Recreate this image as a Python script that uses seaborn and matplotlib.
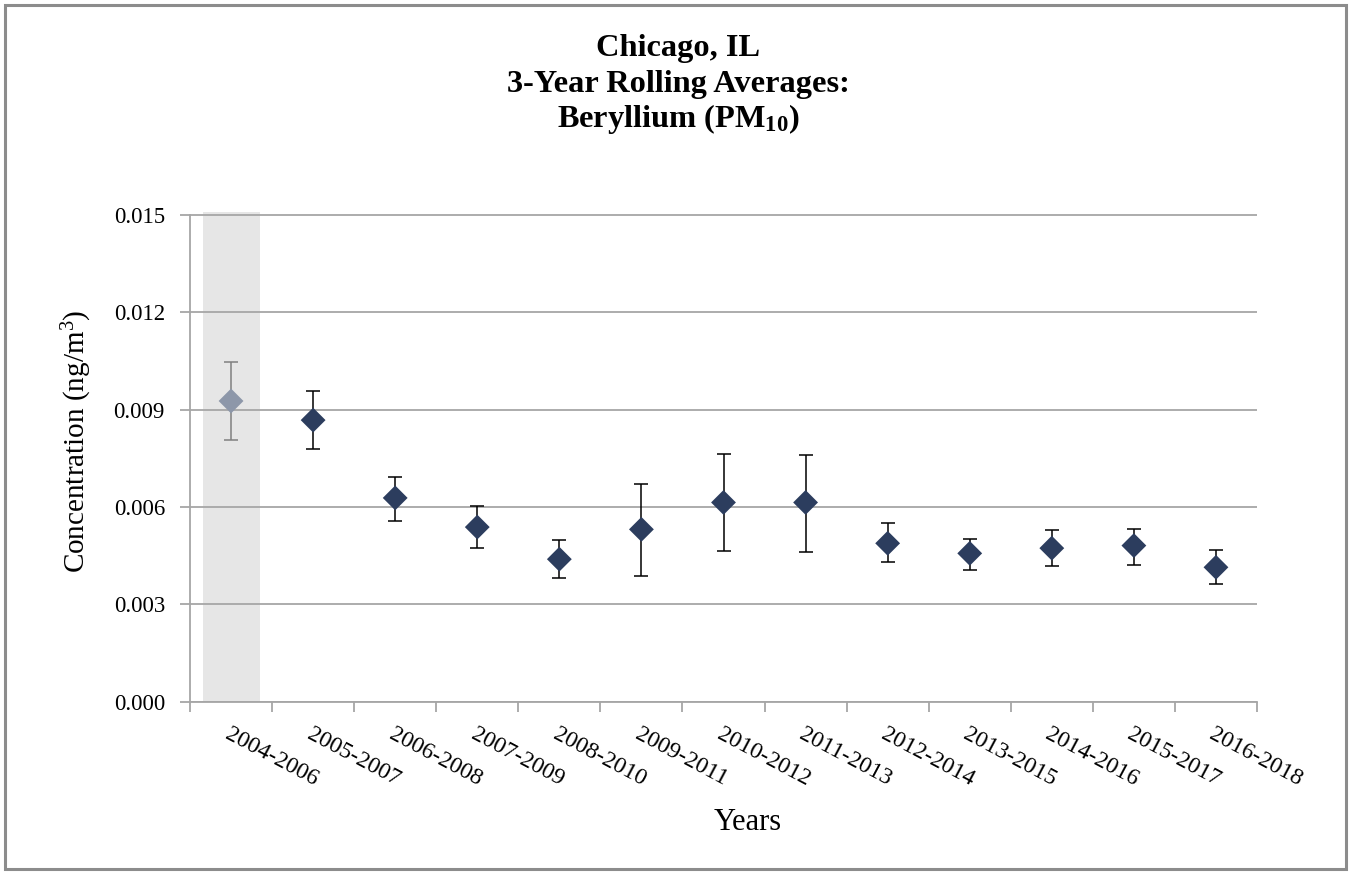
import matplotlib
matplotlib.use("Agg")
import matplotlib.pyplot as plt
import seaborn as sns
import pandas as pd
import numpy as np
from matplotlib.patches import Rectangle

# 3-year rolling averages of beryllium (PM10) with 95% confidence bounds
periods = ["2004-2006", "2005-2007", "2006-2008", "2007-2009", "2008-2010",
           "2009-2011", "2010-2012", "2011-2013", "2012-2014", "2013-2015",
           "2014-2016", "2015-2017", "2016-2018"]
means = [0.00927, 0.00868, 0.00628, 0.00538, 0.00439, 0.00531, 0.00614,
         0.00614, 0.00488, 0.00457, 0.00473, 0.00481, 0.00414]
upper = [0.01047, 0.00957, 0.00693, 0.00603, 0.00498, 0.00671, 0.00763,
         0.00760, 0.00550, 0.00502, 0.00529, 0.00533, 0.00468]
lower = [0.00807, 0.00780, 0.00558, 0.00473, 0.00380, 0.00387, 0.00465,
         0.00460, 0.00431, 0.00407, 0.00418, 0.00422, 0.00361]
groups = ["excluded"] + ["included"] * 12
yticks = [0.000, 0.003, 0.006, 0.009, 0.012, 0.015]

sns.set_theme(style="white")
plt.rcParams["font.family"] = ["Liberation Serif", "DejaVu Serif"]
plt.rcParams["mathtext.fontset"] = "custom"
plt.rcParams["mathtext.rm"] = "Liberation Serif"
plt.rcParams["mathtext.it"] = "Liberation Serif:italic"
plt.rcParams["mathtext.bf"] = "Liberation Serif:bold"
plt.rcParams["text.color"] = "black"

W, H = 1351, 874
GRID = "#A6A6A6"
NAVY = "#2C3D5E"
PALE = "#8D97A9"

df = pd.DataFrame({"period": periods, "mean": means, "low": lower,
                   "high": upper, "group": groups})
df["pos"] = np.arange(len(df))

fig = plt.figure(figsize=(W / 100, H / 100), dpi=100)
ax = fig.add_axes([190 / W, 1 - 701.5 / H, 1067 / W, 489.5 / H])

# shaded period excluded from the trend
ax.axvspan(-0.347, 0.347, color="#E6E6E6", lw=0, zorder=0)

# confidence interval whiskers
for grp, col in [("excluded", "#7F7F7F"), ("included", "black")]:
    sub = df[df["group"] == grp]
    ax.errorbar(sub["pos"], sub["mean"],
                yerr=[sub["mean"] - sub["low"], sub["high"] - sub["mean"]],
                fmt="none", ecolor=col, elinewidth=1.1, capsize=4.7,
                capthick=1.1, zorder=2)

sns.scatterplot(data=df, x="pos", y="mean", hue="group",
                palette={"excluded": PALE, "included": NAVY},
                marker="D", s=160, linewidth=0, legend=False, ax=ax, zorder=3)

ax.set_xlim(-0.5, len(periods) - 0.5)
ax.set_ylim(0, 0.0151)
ax.set_xlabel("")
ax.set_ylabel("")

ax.set_yticks(yticks)
ax.set_yticklabels([f"{v:.3f}" for v in yticks], fontsize=16.5)
ax.tick_params(axis="y", length=7, width=1.3, color=GRID, pad=11,
               left=True, labelcolor="black")

ax.set_xticks(df["pos"])
ax.set_xticklabels(periods, fontsize=17, rotation=-28, ha="left", va="top",
                   rotation_mode="anchor")
ax.tick_params(axis="x", which="major", length=0, pad=16, labelcolor="black")
ax.set_xticks(np.arange(-0.5, len(periods), 1.0), minor=True)
ax.tick_params(axis="x", which="minor", length=7, width=1.3, color=GRID,
               bottom=True, direction="out")

ax.set_axisbelow(True)
ax.yaxis.grid(True, color=GRID, lw=1.3)
ax.xaxis.grid(False)
for side in ("top", "right"):
    ax.spines[side].set_visible(False)
for side in ("left", "bottom"):
    ax.spines[side].set_color(GRID)
    ax.spines[side].set_linewidth(1.3)
ax.spines["left"].set_bounds(0, 0.015)

# title block
title_lines = ["Chicago, IL", "3-Year Rolling Averages:",
               r"Beryllium (PM$_{\mathbf{10}}$)"]
for txt, ybase in zip(title_lines, [56, 92, 127]):
    fig.text(678 / W, 1 - ybase / H, txt, ha="center", va="baseline",
             fontsize=23.3, fontweight="bold", color="black")

fig.text(77 / W, 1 - 441 / H, r"Concentration (ng/m$^{3}$)", rotation=90,
         ha="center", va="center", fontsize=21, color="black")
fig.text(748 / W, 1 - 822 / H, "Years", ha="center", va="center",
         fontsize=22, color="black")

# outer frame
fig.patches.append(Rectangle((5 / W, 5 / H), 1 - 10 / W, 1 - 10 / H,
                             transform=fig.transFigure, fill=False,
                             edgecolor="#8C8C8C", lw=2.2))

fig.savefig("out.png", dpi=100)
